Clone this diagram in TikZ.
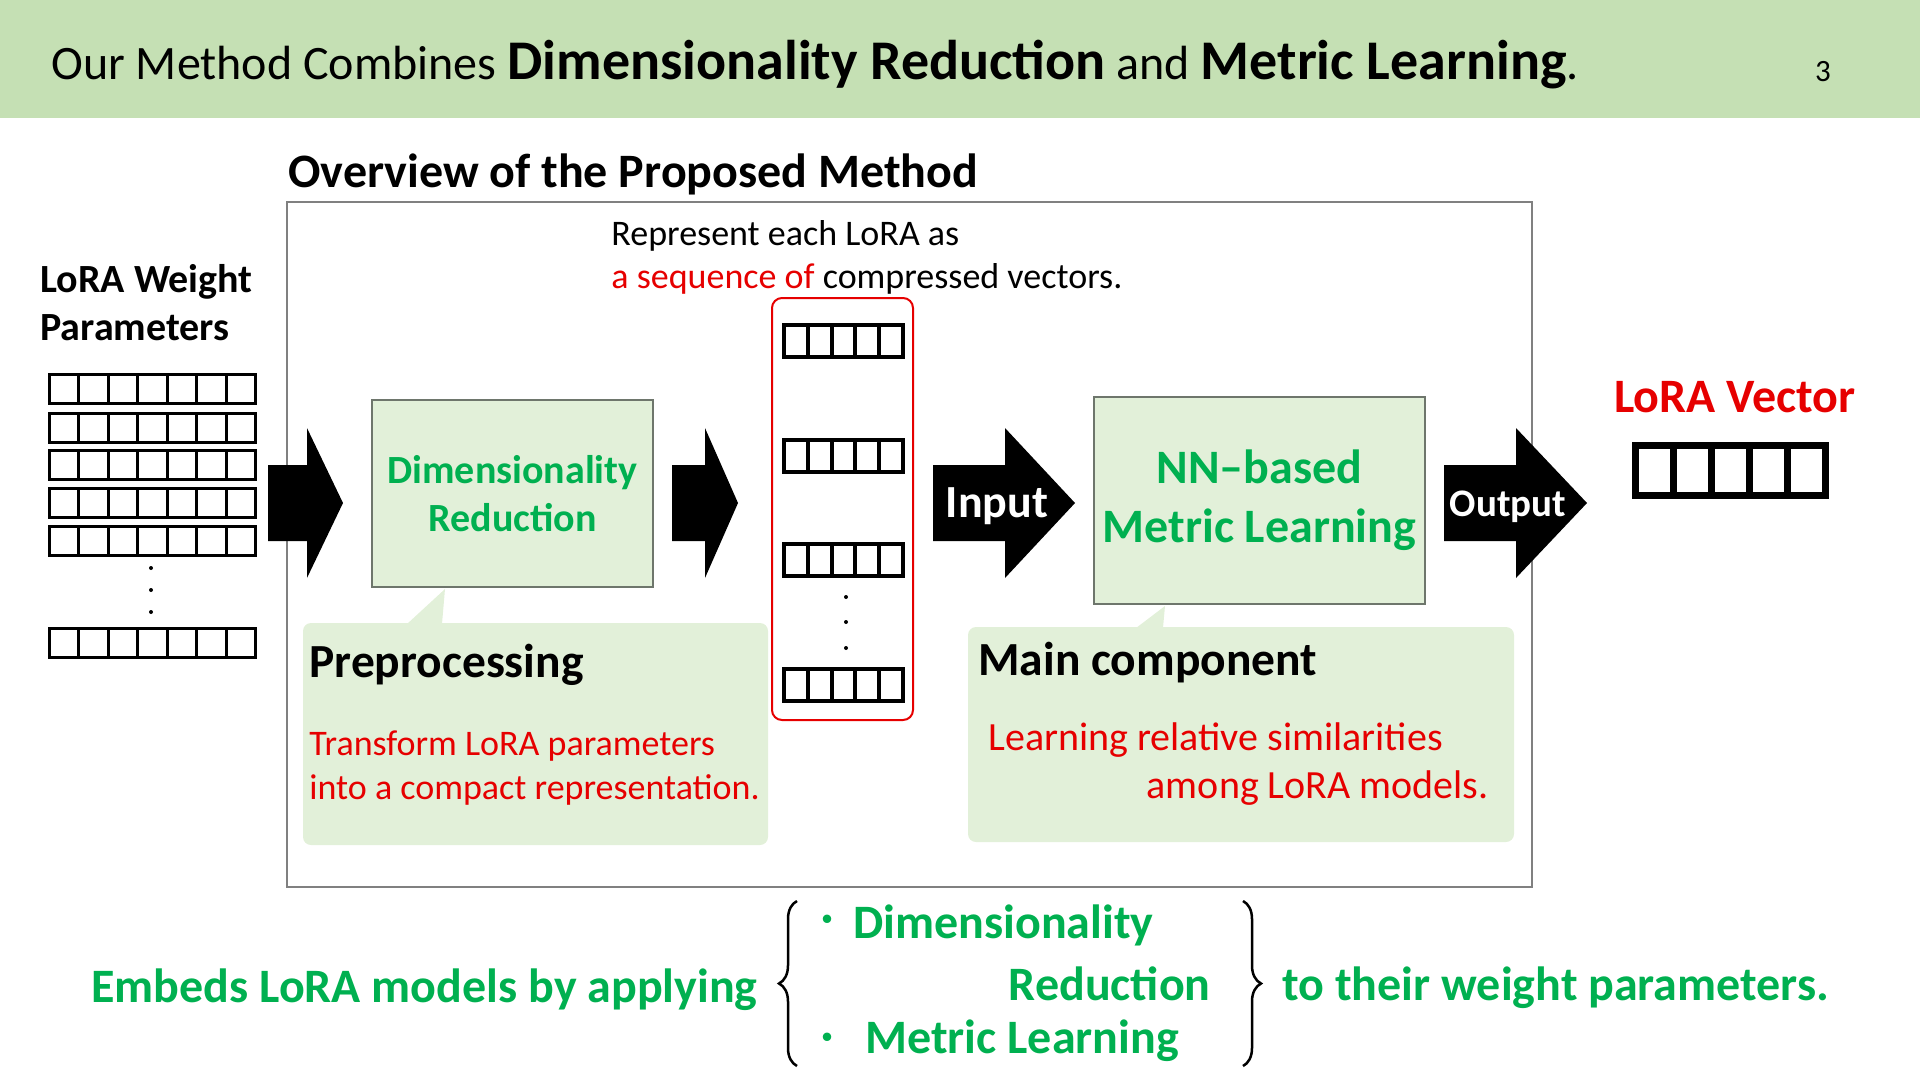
\documentclass[tikz,border=0pt]{standalone}
\usepackage{fontspec}
\setmainfont{Carlito}
\newfontfamily\jpfont{Noto Sans CJK JP}
\usetikzlibrary{decorations.pathreplacing}

\definecolor{hdrgreen}{HTML}{C5E0B4}
\definecolor{boxgreen}{HTML}{E2F0D9}
\definecolor{boxline}{RGB}{110,118,108}
\definecolor{txtgreen}{HTML}{00B050}
\definecolor{txtred}{RGB}{230,0,0}

\begin{document}
\begin{tikzpicture}[x=1pt, y=-1pt, thick,
    txt/.style={inner sep=0, anchor=base west},
    box/.style={draw=boxline, line width=2pt, fill=boxgreen, inner sep=0},
    callout/.style={fill=boxgreen, rounded corners=8pt, inner sep=0},
    greenbf/.style={text=txtgreen, font=\bfseries},
    ]
    \useasboundingbox (0,0) rectangle (1920,1080);

    % header band
    \fill[hdrgreen] (0,0) rectangle (1920,118);
    \node [txt, font=\fontsize{48}{56}\selectfont](title) at (51,79) {Our Method Combines {\fontsize{56}{60}\selectfont\bfseries Dimensionality Reduction} and {\fontsize{56}{60}\selectfont\bfseries Metric Learning}.};
    \node [inner sep=0, font=\fontsize{31}{34}\selectfont](page) at (1823,72) {3};

    % frame of the method
    \node [draw=gray, line width=2pt, minimum width=1245.5, minimum height=684.5, inner sep=0](frame) at (909.25,544.25) {};
    \node [txt, font=\fontsize{48}{56}\selectfont\bfseries](ovw) at (288,187.5) {Overview of the Proposed Method};

    % LoRA weights
    \node [txt, font=\fontsize{40}{46}\selectfont\bfseries](lw1) at (40,292) {LoRA Weight};
    \node [txt, font=\fontsize{40}{46}\selectfont\bfseries](lw2) at (40,340) {Parameters};
    \foreach \r in {374.5,413.5,450.5,488.5,526.5,628.5}
        \foreach \c in {0,...,6}
            \draw[line width=3pt] (49.5+\c*29.43,\r) rectangle ++(29.43,29);
    \foreach \d in {568,590,612}
        \fill (151,\d) circle (2);

    % block arrows
    \foreach \a/\b/\c in {268/307/343, 672/705/738, 933/1005/1075, 1444/1516/1587}
        \fill (\a,465) -- (\b,465) -- (\b,428) -- (\c,503) -- (\b,578) -- (\b,541) -- (\a,541) -- cycle;
    \node [inner sep=0, anchor=base, text=white, font=\fontsize{46}{50}\selectfont\bfseries](in) at (997,517) {Input};
    \node [inner sep=0, anchor=base, text=white, font=\fontsize{39}{42}\selectfont\bfseries](out) at (1508,516) {Output};

    % preprocessing
    \node [callout, minimum width=465, minimum height=222](prepbox) at (535.5,734) {};
    \node [box, minimum width=281, minimum height=187, greenbf, align=center, font=\fontsize{40}{48}\selectfont\bfseries](dr) at (512.5,493.5) {Dimensionality\\Reduction};
    \fill[boxgreen] (407,624) -- (445,589) -- (442,624) -- cycle;
    \node [txt, font=\fontsize{47.5}{52}\selectfont\bfseries](prep) at (309,677) {Preprocessing};
    \node [txt, text=txtred, font=\fontsize{36}{42}\selectfont](prep1) at (309,755) {Transform LoRA parameters};
    \node [txt, text=txtred, font=\fontsize{36}{42}\selectfont](prep2) at (309,799) {into a compact representation.};

    % sequence of compressed vectors
    \node [txt, font=\fontsize{36}{40}\selectfont](rep1) at (611,245) {Represent each LoRA as};
    \node [txt, font=\fontsize{36}{40}\selectfont](rep2) at (611,288) {\textcolor{txtred}{a sequence of} compressed vectors.};
    \node [draw=txtred, line width=2pt, rounded corners=10pt, minimum width=141, minimum height=422, inner sep=0](seq) at (842.5,509) {};
    \foreach \t in {325,440,544,669}
        \foreach \c in {0,...,4}
            \draw[line width=4pt] (784+\c*23.8,\t) rectangle ++(23.8,32);
    \foreach \d in {597,622,648}
        \fill (846,\d) circle (2);

    % metric learning
    \node [callout, minimum width=546, minimum height=215](mainbox) at (1241,734.5) {};
    \node [box, minimum width=331, minimum height=207, greenbf, align=center, font=\fontsize{48}{59}\selectfont\bfseries](nn) at (1259.5,500.5) {NN–based\\Metric Learning};
    \fill[boxgreen] (1136,628) -- (1165,606) -- (1163,628) -- cycle;
    \node [txt, font=\fontsize{47.5}{52}\selectfont\bfseries](main) at (978,675) {Main component};
    \node [txt, text=txtred, font=\fontsize{40}{46}\selectfont](main1) at (988,750) {Learning relative similarities};
    \node [txt, anchor=base east, text=txtred, font=\fontsize{40}{46}\selectfont](main2) at (1489,798) {among LoRA models.};

    % output vector
    \node [inner sep=0, anchor=base, text=txtred, font=\fontsize{48}{52}\selectfont\bfseries](vecname) at (1735,412) {LoRA Vector};
    \foreach \c in {0,...,4}
        \draw[line width=7pt] (1635.5+\c*38,445.5) rectangle ++(38,50);

    % summary
    \node [txt, greenbf, font=\fontsize{48}{54}\selectfont\bfseries](emb) at (91,1002) {Embeds LoRA models by applying};
    \draw[decorate, decoration={brace, amplitude=18pt}, line width=2.5pt] (797,1066) -- (797,901);
    \node [inner sep=0, text=txtgreen, font=\fontsize{40}{44}\selectfont\jpfont](b1) at (827,925) {・};
    \node [txt, greenbf, font=\fontsize{48}{54}\selectfont\bfseries](it1) at (853,938) {Dimensionality};
    \node [txt, anchor=base east, greenbf, font=\fontsize{48}{54}\selectfont\bfseries](it2) at (1211,1000) {Reduction};
    \node [inner sep=0, text=txtgreen, font=\fontsize{40}{44}\selectfont\jpfont](b2) at (827,1043) {・};
    \node [txt, greenbf, font=\fontsize{48}{54}\selectfont\bfseries](it3) at (865,1053) {Metric Learning};
    \draw[decorate, decoration={brace, amplitude=18pt}, line width=2.5pt] (1243,901) -- (1243,1066);
    \node [txt, greenbf, font=\fontsize{48}{54}\selectfont\bfseries](tail) at (1282,1000) {to their weight parameters.};
\end{tikzpicture}
\end{document}
